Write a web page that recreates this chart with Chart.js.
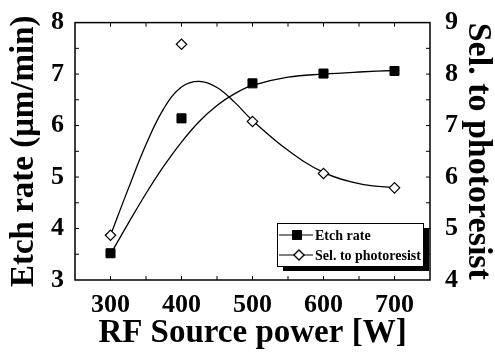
<!DOCTYPE html>
<html><head><meta charset="utf-8">
<script src="https://cdn.jsdelivr.net/npm/chart.js@4/dist/chart.umd.min.js"></script>
<style>html,body{margin:0;padding:0;background:#fff}#wrap{width:495px;height:364px}</style>
</head><body><div id="wrap"><canvas id="c" width="495" height="364"></canvas></div>
<script>
const powers = [300, 400, 500, 600, 700];
const etchRate = [3.52, 6.14, 6.82, 7.01, 7.06];
const selectivity = [4.87, 8.58, 7.08, 6.07, 5.79];
const fitPowers = [300, 325, 350, 375, 400, 425, 450, 475, 500, 550, 600, 650, 700];
const etchFit = [3.5, 4.1, 4.68, 5.21, 5.68, 6.08, 6.39, 6.62, 6.78, 6.94, 7.0, 7.04, 7.07];
const selFit = [4.87, 5.77, 6.63, 7.33, 7.75, 7.86, 7.74, 7.45, 7.1, 6.52, 6.09, 5.87, 5.79];
const xTickLabels = [300, 400, 500, 600, 700];
const leftTickLabels = [3, 4, 5, 6, 7, 8];
const rightTickLabels = [4, 5, 6, 7, 8, 9];
const seriesNames = ['Etch rate', 'Sel. to photoresist'];

const SERIF = '"Liberation Serif", "Times New Roman", serif';
const pts = (xs, ys) => xs.map((x, i) => ({x: x, y: ys[i]}));

const framePlugin = {
  id: 'frame',
  afterDatasetsDraw(chart) {
    const ctx = chart.ctx, a = chart.chartArea;
    ctx.save();
    ctx.strokeStyle = '#000';
    ctx.lineWidth = 1.5;
    ctx.strokeRect(a.left, a.top, a.right - a.left, a.bottom - a.top);
    ctx.lineWidth = 1;
    const xs = chart.scales.x;
    xs.ticks.forEach(t => {
      const px = xs.getPixelForValue(t.value);
      if (px <= a.left + 1 || px >= a.right - 1) return;
      ctx.beginPath(); ctx.moveTo(px, a.bottom); ctx.lineTo(px, a.bottom - 4); ctx.stroke();
      ctx.beginPath(); ctx.moveTo(px, a.top); ctx.lineTo(px, a.top + 4); ctx.stroke();
    });
    const yl = chart.scales.y;
    yl.ticks.forEach(t => {
      const py = yl.getPixelForValue(t.value);
      if (py <= a.top + 1 || py >= a.bottom - 1) return;
      ctx.beginPath(); ctx.moveTo(a.left, py); ctx.lineTo(a.left + 4, py); ctx.stroke();
    });
    const yr = chart.scales.y1;
    yr.ticks.forEach(t => {
      const py = yr.getPixelForValue(t.value);
      if (py <= a.top + 1 || py >= a.bottom - 1) return;
      ctx.beginPath(); ctx.moveTo(a.right, py); ctx.lineTo(a.right - 4, py); ctx.stroke();
    });
    ctx.restore();
  },
  afterDraw(chart) {
    const ctx = chart.ctx, a = chart.chartArea;
    const bx = a.right - 153, by = a.bottom - 57, bw = 146, bh = 43;
    ctx.save();
    ctx.fillStyle = '#000';
    ctx.fillRect(bx + 6, by + 5, bw, bh);
    ctx.fillStyle = '#fff';
    ctx.fillRect(bx, by, bw, bh);
    ctx.strokeStyle = '#000';
    ctx.lineWidth = 1;
    ctx.strokeRect(bx + 0.5, by + 0.5, bw, bh);
    const rows = [
      {y: by + 12, style: 'rect', fill: '#000', r: 6, mx: bx + 20},
      {y: by + 32, style: 'rectRot', fill: '#fff', r: 5, mx: bx + 22}
    ];
    ctx.font = 'bold 14px ' + SERIF;
    ctx.textBaseline = 'middle';
    rows.forEach((r, i) => {
      ctx.strokeStyle = '#000'; ctx.lineWidth = 1;
      ctx.beginPath(); ctx.moveTo(bx + 2, r.y); ctx.lineTo(bx + 36, r.y); ctx.stroke();
      ctx.fillStyle = r.fill;
      ctx.lineWidth = 1.2;
      Chart.helpers.drawPoint(ctx, {pointStyle: r.style, radius: r.r, borderWidth: 1.2, rotation: 0}, r.mx, r.y);
      ctx.fill(); ctx.stroke();
      ctx.fillStyle = '#000';
      ctx.fillText(seriesNames[i], bx + 38, r.y + 1);
    });
    ctx.restore();
  }
};

new Chart(document.getElementById('c'), {
  type: 'scatter',
  data: {
    datasets: [
      {label: 'etchFit', data: pts(fitPowers, etchFit), yAxisID: 'y', showLine: true, pointRadius: 0,
       borderColor: '#000', borderWidth: 1.3, tension: 0.4, order: 3},
      {label: 'selFit', data: pts(fitPowers, selFit), yAxisID: 'y1', showLine: true, pointRadius: 0,
       borderColor: '#000', borderWidth: 1.3, tension: 0.4, order: 3},
      {label: seriesNames[0], data: pts(powers, etchRate), yAxisID: 'y', showLine: false,
       pointStyle: 'rect', pointRadius: 6.4, backgroundColor: '#000', borderColor: '#000', borderWidth: 1, order: 1},
      {label: seriesNames[1], data: pts(powers, selectivity), yAxisID: 'y1', showLine: false,
       pointStyle: 'rectRot', pointRadius: 5.2, backgroundColor: '#fff', borderColor: '#000', borderWidth: 1.2, order: 1}
    ]
  },
  options: {
    responsive: false,
    animation: false,
    events: [],
    layout: {padding: {top: 17, left: 0, right: 0, bottom: 0}},
    plugins: {legend: {display: false}, tooltip: {enabled: false}},
    scales: {
      x: {
        type: 'linear', min: 250, max: 750,
        grid: {display: false},
        border: {display: false},
        afterBuildTicks: s => { s.ticks = []; for (let v = 250; v <= 750; v += 50) s.ticks.push({value: v}); },
        ticks: {
          autoSkip: false, maxRotation: 0, padding: 2, color: '#000',
          font: {family: SERIF, size: 26, weight: 'bold'},
          callback: v => xTickLabels.includes(v) ? String(v) : ''
        },
        title: {display: true, text: 'RF Source power [W]', color: '#000',
          font: {family: SERIF, size: 33, weight: 'bold'}, padding: {top: 0, bottom: 11}},
        afterFit: s => { s.height = 84; }
      },
      y: {
        type: 'linear', position: 'left', min: 3, max: 8,
        grid: {display: false}, border: {display: false},
        afterBuildTicks: s => { s.ticks = []; for (let v = 3; v <= 8.001; v += 0.5) s.ticks.push({value: Math.round(v * 10) / 10}); },
        ticks: {
          autoSkip: false, padding: 3, color: '#000',
          font: {family: SERIF, size: 26, weight: 'bold'},
          callback: v => leftTickLabels.includes(v) ? String(v) : ''
        },
        title: {display: true, text: 'Etch rate (μm/min)', color: '#000',
          font: {family: SERIF, size: 33, weight: 'bold'}, padding: {top: 5, bottom: 0}},
        afterFit: s => { s.width = 75; }
      },
      y1: {
        type: 'linear', position: 'right', min: 4, max: 9,
        grid: {display: false}, border: {display: false},
        afterBuildTicks: s => { s.ticks = []; for (let v = 4; v <= 9.001; v += 0.5) s.ticks.push({value: Math.round(v * 10) / 10}); },
        ticks: {
          autoSkip: false, padding: 7, color: '#000',
          font: {family: SERIF, size: 26, weight: 'bold'},
          callback: v => rightTickLabels.includes(v) ? String(v) : ''
        },
        title: {display: true, text: 'Sel. to photoresist', color: '#000',
          font: {family: SERIF, size: 34, weight: 'bold'}, padding: {top: -3, bottom: 0}},
        afterFit: s => { s.width = 65; }
      }
    }
  },
  plugins: [framePlugin]
});
</script>
</body></html>
